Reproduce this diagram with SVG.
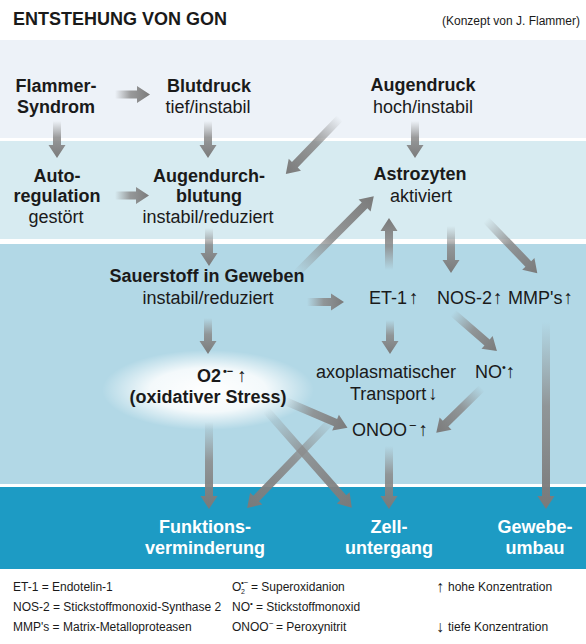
<svg xmlns="http://www.w3.org/2000/svg" width="586" height="644" viewBox="0 0 586 644">
<defs>
<style>
text{font-family:"Liberation Sans",Arial,"DejaVu Sans",sans-serif;fill:#1a1a1a}
.b{font-weight:bold;font-size:18px}
.r{font-size:18px}
.w{font-weight:bold;font-size:18px;fill:#ffffff}
.m{text-anchor:middle}
.lg{font-size:12px}
.ar{fill:url(#ag)}
.up{font-size:19px;font-weight:normal}
</style>
<linearGradient id="ag" x1="0" y1="0" x2="1" y2="0">
<stop offset="0" stop-color="#8e8e8e" stop-opacity="0"/>
<stop offset="0.45" stop-color="#8a8a8a" stop-opacity="0.85"/>
<stop offset="1" stop-color="#7a7a7a" stop-opacity="1"/>
</linearGradient>
<radialGradient id="glow" cx="0.5" cy="0.5" r="0.5">
<stop offset="0" stop-color="#ffffff" stop-opacity="1"/>
<stop offset="0.55" stop-color="#ffffff" stop-opacity="0.85"/>
<stop offset="1" stop-color="#ffffff" stop-opacity="0"/>
</radialGradient>
</defs>
<rect x="0" y="0" width="586" height="644" fill="#ffffff"/>
<rect x="0" y="40" width="586" height="98" fill="#edf2f8"/>
<rect x="0" y="141" width="586" height="98" fill="#d7ebf1"/>
<rect x="0" y="244" width="586" height="240" fill="#b2d8e6"/>
<rect x="0" y="487" width="586" height="82" fill="#1d9bc4"/>
<ellipse cx="208" cy="390" rx="106" ry="40" fill="url(#glow)"/>

<text x="13" y="25" class="b">ENTSTEHUNG VON GON</text>
<text x="580" y="25" class="lg" text-anchor="end">(Konzept von J. Flammer)</text>

<g id="connectors">
<path class="ar" transform="translate(115,94.5)" d="M0,-4H22V-8.5L35,0L22,8.5V4H0Z"/>
<path class="ar" transform="translate(57,121) rotate(90)" d="M0,-4H24V-8.5L37,0L24,8.5V4H0Z"/>
<path class="ar" transform="translate(208,121) rotate(90)" d="M0,-4H24V-8.5L37,0L24,8.5V4H0Z"/>
<path class="ar" transform="translate(415,121) rotate(90)" d="M0,-4H24V-8.5L37,0L24,8.5V4H0Z"/>
<path class="ar" transform="translate(340,118) rotate(134)" d="M0,-4H65V-8.5L78,0L65,8.5V4H0Z"/>
<path class="ar" transform="translate(115,195.5)" d="M0,-4H21V-8.5L34,0L21,8.5V4H0Z"/>
<path class="ar" transform="translate(209,228) rotate(90)" d="M0,-4H25V-8.5L38,0L25,8.5V4H0Z"/>
<path class="ar" transform="translate(208,318) rotate(90)" d="M0,-4H23V-8.5L36,0L23,8.5V4H0Z"/>
<path class="ar" transform="translate(307,302)" d="M0,-4H24V-8.5L37,0L24,8.5V4H0Z"/>
<path class="ar" transform="translate(209,422) rotate(90)" d="M0,-4H74V-8.5L87,0L74,8.5V4H0Z"/>
<path class="ar" transform="translate(266,410) rotate(48.7)" d="M0,-4H117V-8.5L130,0L117,8.5V4H0Z"/>
<path class="ar" transform="translate(334,418) rotate(134)" d="M0,-4H112V-8.5L125,0L112,8.5V4H0Z"/>
<path class="ar" transform="translate(285,401) rotate(23.2)" d="M0,-4H55V-8.5L68,0L55,8.5V4H0Z"/>
<path class="ar" transform="translate(389,446) rotate(90)" d="M0,-4H50V-8.5L63,0L50,8.5V4H0Z"/>
<path class="ar" transform="translate(389,270) rotate(-90)" d="M0,-4H39V-8.5L52,0L39,8.5V4H0Z"/>
<path class="ar" transform="translate(296,274) rotate(-45)" d="M0,-4H97V-8.5L110,0L97,8.5V4H0Z"/>
<path class="ar" transform="translate(390,320) rotate(90)" d="M0,-4H21V-8.5L34,0L21,8.5V4H0Z"/>
<path class="ar" transform="translate(451,226) rotate(90)" d="M0,-4H34V-8.5L47,0L34,8.5V4H0Z"/>
<path class="ar" transform="translate(486,220) rotate(46.1)" d="M0,-4H61V-8.5L74,0L61,8.5V4H0Z"/>
<path class="ar" transform="translate(453,313) rotate(40.8)" d="M0,-4H45V-8.5L58,0L45,8.5V4H0Z"/>
<path class="ar" transform="translate(482,388) rotate(135.6)" d="M0,-4H51V-8.5L64,0L51,8.5V4H0Z"/>
<path class="ar" transform="translate(546,322) rotate(90)" d="M0,-4H174V-8.5L187,0L174,8.5V4H0Z"/>
</g>

<g id="flammer"><text class="b m" x="56" y="92">Flammer-</text><text class="b m" x="56" y="113">Syndrom</text></g>
<g id="blutdruck"><text class="b m" x="209" y="92">Blutdruck</text><text class="r m" x="208" y="113">tief/instabil</text></g>
<g id="augendruck"><text class="b m" x="423" y="91">Augendruck</text><text class="r m" x="423" y="113">hoch/instabil</text></g>
<g id="autoregulation"><text class="b m" x="57" y="182">Auto-</text><text class="b m" x="57" y="202">regulation</text><text class="r m" x="56" y="223">gestört</text></g>
<g id="augendurchblutung"><text class="b m" x="209" y="182">Augendurch-</text><text class="b m" x="209" y="202">blutung</text><text class="r m" x="208" y="223">instabil/reduziert</text></g>
<g id="astrozyten"><text class="b m" x="420" y="180">Astrozyten</text><text class="r m" x="421" y="202">aktiviert</text></g>
<g id="sauerstoff"><text class="b m" x="207" y="282">Sauerstoff in Geweben</text><text class="r m" x="208" y="304">instabil/reduziert</text></g>
<g id="o2"><text class="b" x="197" y="382">O2<tspan font-size="11" dy="-7" dx="2">•−</tspan><tspan class="up" dy="7" dx="4">↑</tspan></text><text class="b m" x="208" y="403">(oxidativer Stress)</text></g>
<g id="et1"><text class="r" x="369" y="304">ET-1<tspan class="up" dx="2">↑</tspan></text></g>
<g id="nos2"><text class="r" x="437" y="304">NOS-2<tspan class="up" dx="1">↑</tspan></text></g>
<g id="mmps"><text class="r" x="508" y="304">MMP's<tspan class="up" dx="1">↑</tspan></text></g>
<g id="axoplasma"><text class="r m" x="386" y="378">axoplasmatischer</text><text class="r" x="350" y="400">Transport<tspan class="up" dx="2">↓</tspan></text></g>
<g id="no"><text class="r" x="475" y="378">NO<tspan font-size="11" dy="-7">•</tspan><tspan class="up" dy="7" dx="0">↑</tspan></text></g>
<g id="onoo"><text class="r" x="352" y="435.5">ONOO<tspan font-size="13" dy="-6" dx="2">−</tspan><tspan class="up" dy="6" dx="2">↑</tspan></text></g>
<g id="funktionsverminderung"><text class="w m" x="205" y="533">Funktions-</text><text class="w m" x="205" y="554">verminderung</text></g>
<g id="zelluntergang"><text class="w m" x="389" y="533">Zell-</text><text class="w m" x="389" y="554">untergang</text></g>
<g id="gewebeumbau"><text class="w m" x="535" y="533">Gewebe-</text><text class="w m" x="535" y="554">umbau</text></g>

<g id="legend">
<text class="lg" x="13" y="591">ET-1 = Endotelin-1</text>
<text class="lg" x="13" y="611">NOS-2 = Stickstoffmonoxid-Synthase 2</text>
<text class="lg" x="13" y="631">MMP's = Matrix-Metalloproteasen</text>
<text class="lg" x="232" y="591">O</text>
<text x="241" y="594" font-size="7">2</text>
<text x="241" y="585" font-size="8">•−</text>
<text class="lg" x="251" y="591">= Superoxidanion</text>
<text class="lg" x="232" y="611">NO</text>
<text x="250" y="606" font-size="8">•</text>
<text class="lg" x="256" y="611">= Stickstoffmonoxid</text>
<text class="lg" x="232" y="631">ONOO</text>
<text x="269" y="626" font-size="8">−</text>
<text class="lg" x="276" y="631">= Peroxynitrit</text>
<text x="436" y="592" font-size="16">↑</text>
<text class="lg" x="448" y="591">hohe Konzentration</text>
<text x="436" y="632" font-size="16">↓</text>
<text class="lg" x="448" y="631">tiefe Konzentration</text>
</g>
</svg>
